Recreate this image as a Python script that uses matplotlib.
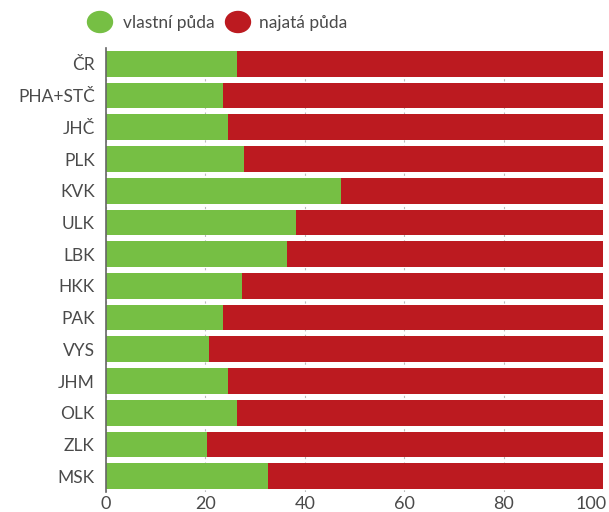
import matplotlib.pyplot as plt
import matplotlib.transforms as mtransforms
import numpy as np

plt.rcParams['font.family'] = ['Lato', 'DejaVu Sans']

regions = ['ČR', 'PHA+STČ', 'JHČ', 'PLK', 'KVK', 'ULK', 'LBK',
           'HKK', 'PAK', 'VYS', 'JHM', 'OLK', 'ZLK', 'MSK']
own = [26.4, 23.5, 24.5, 27.8, 47.3, 38.2, 36.4,
       27.4, 23.5, 20.7, 24.5, 26.4, 20.3, 32.6]
rented = [100 - v for v in own]

green = '#76bf44'
red = '#bc1a20'
grey = '#4a4a4a'

fig = plt.figure(figsize=(6.09, 5.12), dpi=100)
ax = fig.add_axes([106 / 609, 20 / 512, 497 / 609, 444 / 512])

y = np.arange(len(regions))
ax.barh(y, own, height=0.81, color=green, zorder=2)
ax.barh(y, rented, left=own, height=0.81, color=red, zorder=2)

ax.set_ylim(len(regions) - 0.5, -0.5)
ax.set_xlim(0, 100)
ax.set_yticks(y)
ax.set_yticklabels(regions, fontsize=12.5, color=grey)
ax.set_xticks([0, 20, 40, 60, 80, 100])
ax.tick_params(axis='x', labelsize=13, colors=grey, length=0, pad=3)
ax.tick_params(axis='y', length=0, pad=8)
ax.grid(axis='x', color='#bbbbbb', linestyle=(0, (2, 3)), linewidth=0.8, zorder=0)

# keep the "100" label inside the figure
last = ax.get_xticklabels()[-1]
last.set_horizontalalignment('right')
last.set_transform(last.get_transform() + mtransforms.ScaledTranslation(4 / 100, 0, fig.dpi_scale_trans))

for s in ['top', 'right', 'bottom']:
    ax.spines[s].set_visible(False)
ax.spines['left'].set_color('#666666')
ax.spines['left'].set_linewidth(1.2)

# legend
fig.patches.append(plt.Circle((100 / 609, 1 - 22 / 512), 0.0205, transform=fig.transFigure,
                              color=green, figure=fig))
fig.text(123 / 609, 1 - 23 / 512, 'vlastní půda', fontsize=12.5, color=grey, va='center')
fig.patches.append(plt.Circle((238 / 609, 1 - 22 / 512), 0.0205, transform=fig.transFigure,
                              color=red, figure=fig))
fig.text(259 / 609, 1 - 23 / 512, 'najatá půda', fontsize=12.5, color=grey, va='center')

fig.savefig('out.png', dpi=100)
